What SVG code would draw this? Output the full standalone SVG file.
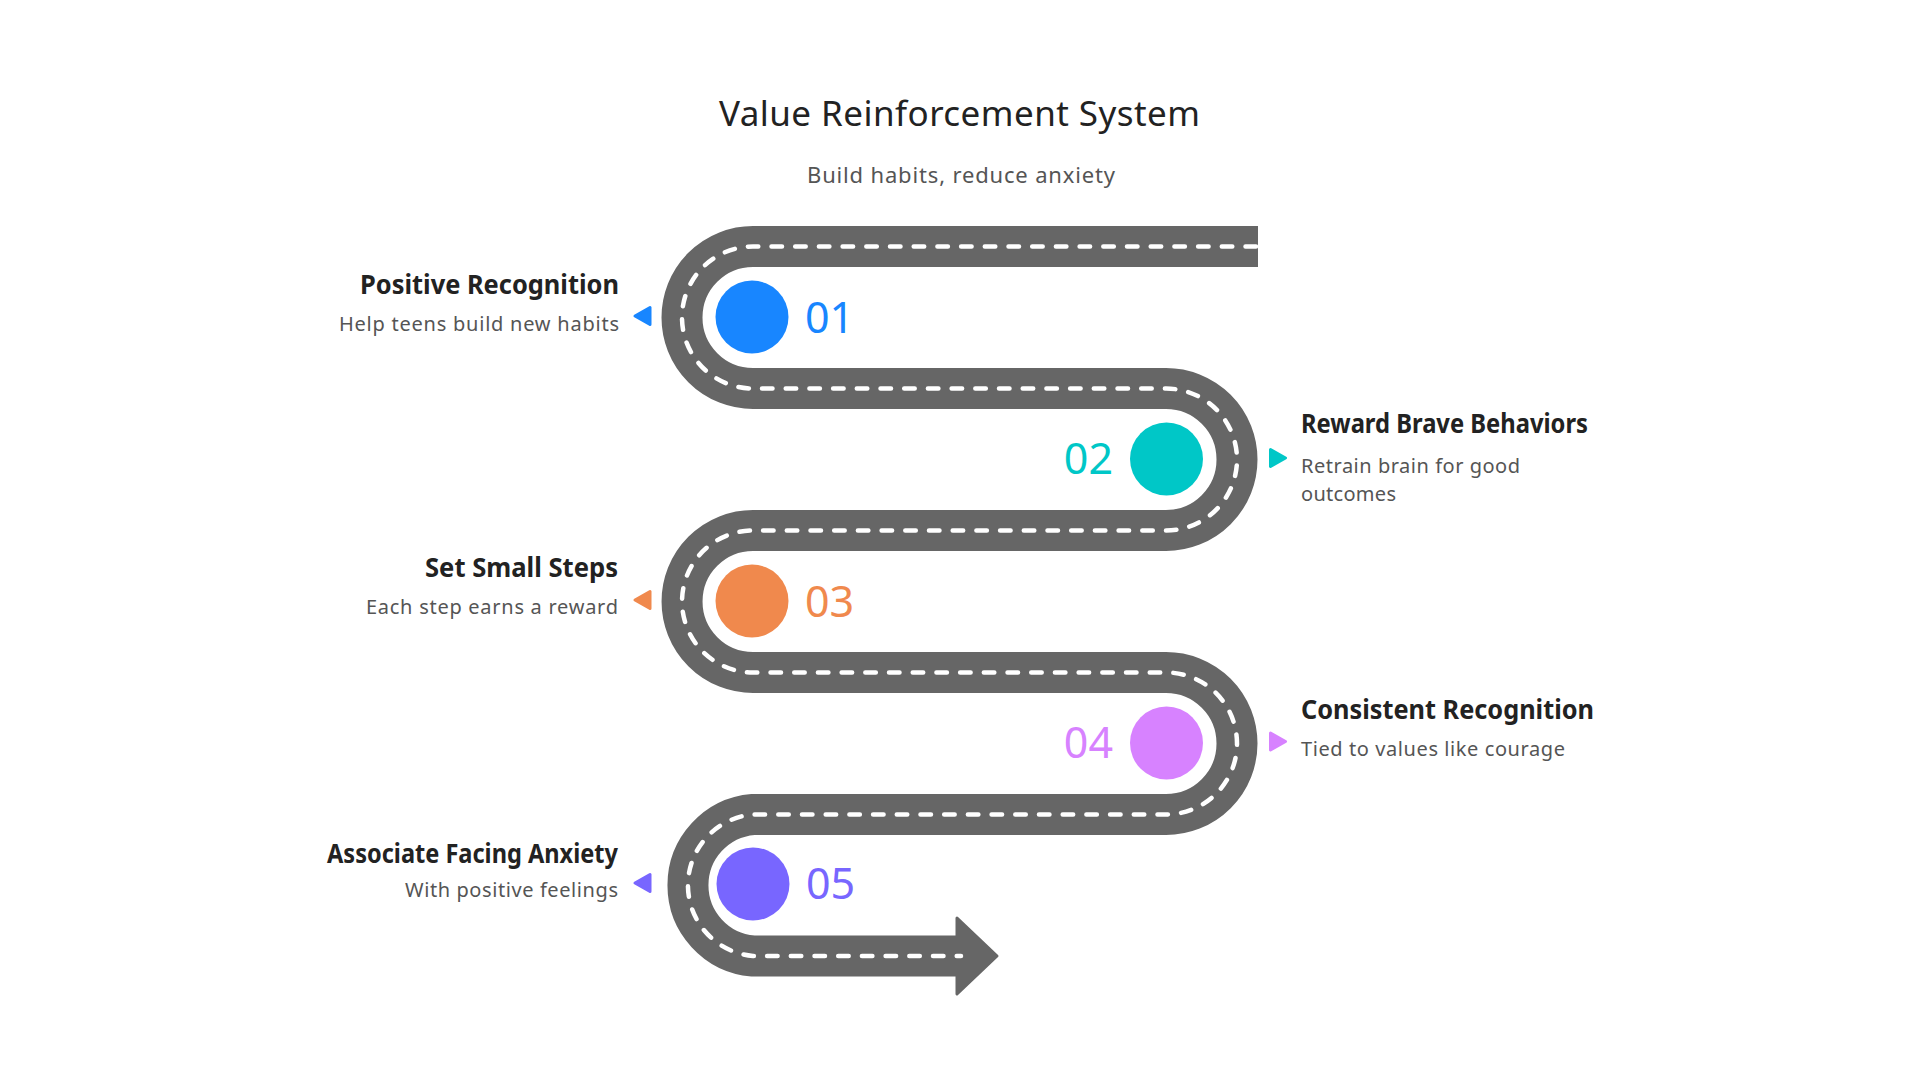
<svg xmlns="http://www.w3.org/2000/svg" width="1920" height="1080" viewBox="0 0 1920 1080">
<style>
.title{font-family:"Noto Sans","Open Sans",sans-serif;font-size:35px;fill:#222222}
.sub{font-family:"Noto Sans","Open Sans",sans-serif;font-size:22px;fill:#555555}
.lt{font-family:"Noto Sans","Open Sans",sans-serif;font-size:26px;font-weight:bold;fill:#222222}
.ld{font-family:"Noto Sans","Open Sans",sans-serif;font-size:20px;fill:#555555}
.num{font-family:"Noto Sans","Open Sans",sans-serif;font-size:43px}
.road{fill:none;stroke:#666666;stroke-width:41}
.dash{fill:none;stroke:#ffffff;stroke-width:4.5;stroke-linecap:round;stroke-dasharray:10.5 13.2}
</style>
<rect width="1920" height="1080" fill="#ffffff"/>
<text class="title" x="719" y="126" textLength="481" lengthAdjust="spacing">Value Reinforcement System</text>
<text class="sub" x="807" y="183" textLength="308" lengthAdjust="spacing">Build habits, reduce anxiety</text>
<g id="connectors">
<path class="road" d="M1258 246.5 H753 A71 71 0 0 0 753 388.5 H1166 A71 71 0 0 1 1166 530.5 H753 A71 71 0 0 0 753 672.5 H1166 A71 71 0 0 1 1166 814.5 H753 A71 71 0 0 0 753 956 H958"/>
<polygon points="957,918 997,956 957,994" fill="#666666" stroke="#666666" stroke-width="3" stroke-linejoin="round"/>
<path class="dash" d="M1256 246.5 H753 A71 71 0 0 0 753 388.5 H1166 A71 71 0 0 1 1166 530.5 H753 A71 71 0 0 0 753 672.5 H1166 A71 71 0 0 1 1166 814.5 H753 A71 71 0 0 0 753 956 H961"/>
</g>
<g id="node1">
<circle cx="752" cy="317" r="36.5" fill="#1886FF"/>
<text class="num" x="805" y="333" fill="#1886FF">01</text>
<polygon points="635,316 650,307.5 650,324.5" fill="#1886FF" stroke="#1886FF" stroke-width="3" stroke-linejoin="round"/>
<text class="lt" x="360" y="294" textLength="259" lengthAdjust="spacingAndGlyphs">Positive Recognition</text>
<text class="ld" x="339" y="331" textLength="280" lengthAdjust="spacing">Help teens build new habits</text>
</g>
<g id="node2">
<circle cx="1166.5" cy="459" r="36.5" fill="#00C7C7"/>
<text class="num" x="1113" y="474" fill="#00C7C7" text-anchor="end">02</text>
<polygon points="1270.5,449.5 1285.5,458 1270.5,466.5" fill="#00C7C7" stroke="#00C7C7" stroke-width="3" stroke-linejoin="round"/>
<text class="lt" x="1301" y="433" textLength="287" lengthAdjust="spacingAndGlyphs">Reward Brave Behaviors</text>
<text class="ld" x="1301" y="473" textLength="219" lengthAdjust="spacing">Retrain brain for good</text>
<text class="ld" x="1301" y="501" textLength="95" lengthAdjust="spacing">outcomes</text>
</g>
<g id="node3">
<circle cx="752" cy="601" r="36.5" fill="#F0894D"/>
<text class="num" x="805" y="617" fill="#F0894D">03</text>
<polygon points="635,600 650,591.5 650,608.5" fill="#F0894D" stroke="#F0894D" stroke-width="3" stroke-linejoin="round"/>
<text class="lt" x="425" y="577" textLength="193" lengthAdjust="spacingAndGlyphs">Set Small Steps</text>
<text class="ld" x="366" y="614" textLength="252" lengthAdjust="spacing">Each step earns a reward</text>
</g>
<g id="node4">
<circle cx="1166.5" cy="743" r="36.5" fill="#D782FF"/>
<text class="num" x="1113" y="758" fill="#D782FF" text-anchor="end">04</text>
<polygon points="1270.5,733 1285.5,741.5 1270.5,750" fill="#D782FF" stroke="#D782FF" stroke-width="3" stroke-linejoin="round"/>
<text class="lt" x="1301" y="719" textLength="293" lengthAdjust="spacingAndGlyphs">Consistent Recognition</text>
<text class="ld" x="1301" y="756" textLength="264" lengthAdjust="spacing">Tied to values like courage</text>
</g>
<g id="node5">
<circle cx="753" cy="884" r="36.5" fill="#7866FF"/>
<text class="num" x="806" y="899" fill="#7866FF">05</text>
<polygon points="635,883 650,874.5 650,891.5" fill="#7866FF" stroke="#7866FF" stroke-width="3" stroke-linejoin="round"/>
<text class="lt" x="327" y="863" textLength="291" lengthAdjust="spacingAndGlyphs">Associate Facing Anxiety</text>
<text class="ld" x="405" y="897" textLength="213" lengthAdjust="spacing">With positive feelings</text>
</g>
</svg>
